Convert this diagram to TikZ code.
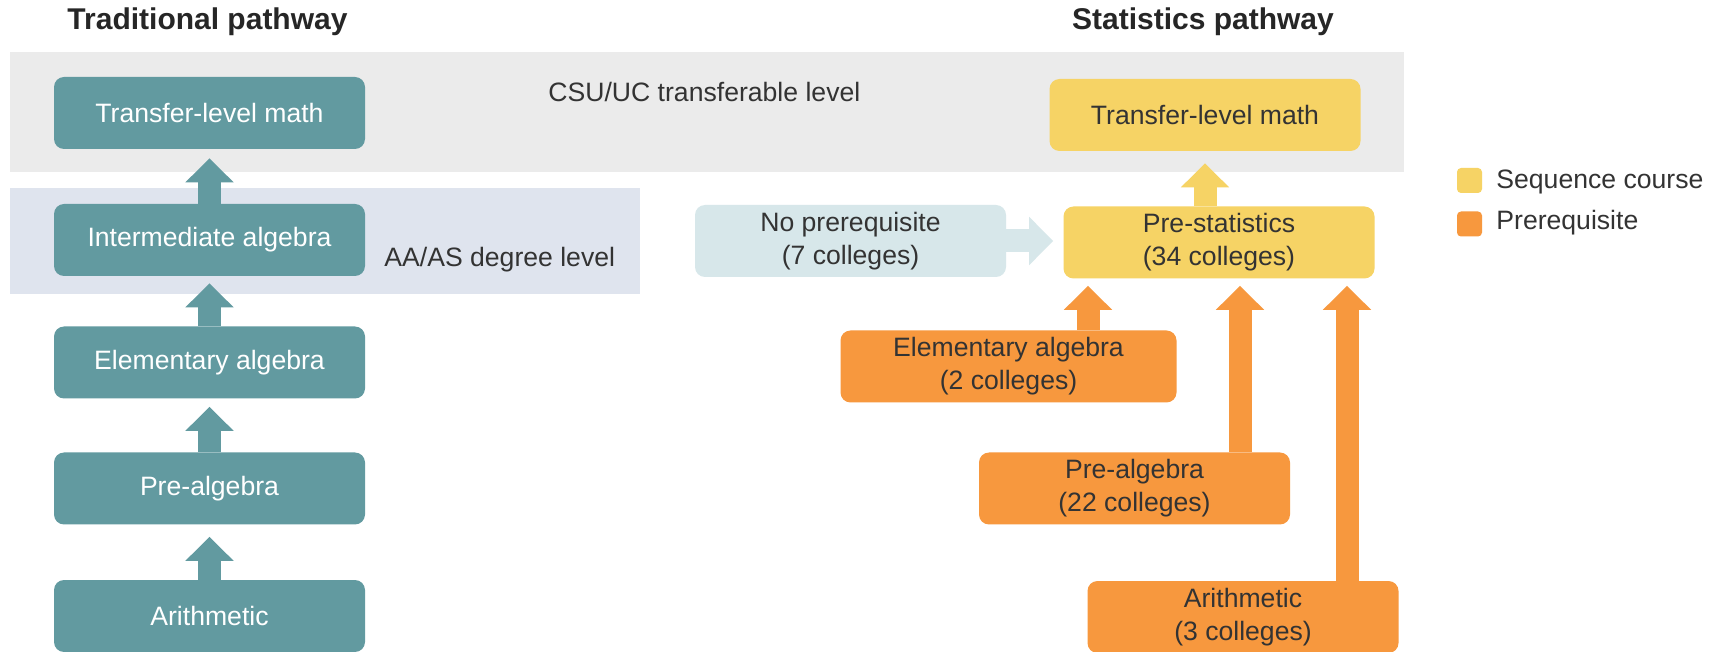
\documentclass[tikz,border=0pt]{standalone}
\usepackage{fontspec}
\setmainfont{Liberation Sans}
\usetikzlibrary{arrows.meta,calc}
\definecolor{tealc}{HTML}{629AA0}
\definecolor{yellowc}{HTML}{F6D365}
\definecolor{orangec}{HTML}{F7983E}
\definecolor{bandgray}{HTML}{EBEBEB}
\definecolor{bandblue}{HTML}{DFE4EE}
\definecolor{paleblue}{HTML}{D7E7EA}
\definecolor{darktext}{HTML}{333333}
\begin{document}
\begin{tikzpicture}[x=0.5pt,y=-0.5pt,
  box/.style={rounded corners=5pt, minimum width=155.5pt, minimum height=36pt, inner sep=0pt, align=center, font=\fontsize{13.3}{16.5}\selectfont},
  tealbox/.style={box, fill=tealc, text=white},
  ybox/.style={box, fill=yellowc, text=darktext},
  obox/.style={box, fill=orangec, text=darktext},
  nbox/.style={box, fill=paleblue, text=darktext},
  lbl/.style={inner sep=0pt, text=darktext, font=\fontsize{13.3}{16.5}\selectfont},
  ttl/.style={inner sep=0pt, text=black!85, font=\bfseries\fontsize{15}{18}\selectfont},
  legsq/.style={rounded corners=2pt, minimum width=12.5pt, minimum height=12.5pt, inner sep=0pt},
  blockarrow/.style={line width=11.5pt, -{Triangle[length=12pt,width=23.5pt]}},
  tarrow/.style={blockarrow, draw=tealc},
  yarrow/.style={blockarrow, draw=yellowc},
  oarrow/.style={blockarrow, draw=orangec},
  narrow/.style={blockarrow, draw=paleblue}]
\fill[white] (0,0) rectangle (1721,652);
\useasboundingbox (0,0) rectangle (1721,652);
% bands
\fill[bandgray] (10,52) rectangle (1404,172);
\fill[bandblue] (10,188) rectangle (640,294);
% titles
\node[ttl] (tt) at (207.5,22) {Traditional pathway};
\node[ttl] (st) at (1203,22) {Statistics pathway};
% band labels
\node[lbl, anchor=west] (csu) at (548,92) {CSU/UC transferable level};
\node[lbl, anchor=west] (aa) at (384,260) {AA/AS degree level};
% traditional pathway
\node[tealbox] (t1) at (209.5,113) {Transfer-level math};
\node[tealbox] (t2) at (209.5,240) {Intermediate algebra};
\node[tealbox] (t3) at (209.5,362.5) {Elementary algebra};
\node[tealbox] (t4) at (209.5,488.5) {Pre-algebra};
\node[tealbox] (t5) at (209.5,616) {Arithmetic};
\draw[tarrow, shorten >=4.5pt] (t2.north) -- (t1.south);
\draw[tarrow, shorten >=3.5pt] (t3.north) -- (t2.south);
\draw[tarrow, shorten >=4pt] (t4.north) -- (t3.south);
\draw[tarrow, shorten >=6pt] (t5.north) -- (t4.south);
% statistics pathway
\node[ybox] (y1) at (1205,115) {Transfer-level math};
\node[ybox] (ps) at (1219,242.5) {Pre-statistics\\(34 colleges)};
\draw[yarrow, shorten >=6pt] (y1.south |- ps.north) -- (y1.south);
\node[nbox] (np) at (850.5,241) {No prerequisite\\(7 colleges)};
\draw[narrow, shorten >=5pt] (np.east) -- (np.east -| ps.west);
\node[obox, minimum width=168pt] (o1) at (1008.5,366.5) {Elementary algebra\\(2 colleges)};
\node[obox] (o2) at (1134.5,488.5) {Pre-algebra\\(22 colleges)};
\node[obox] (o3) at (1243,617) {Arithmetic\\(3 colleges)};
\coordinate (c1) at (1088,0);
\coordinate (c2) at (1240,0);
\coordinate (c3) at (1347,0);
\draw[oarrow, shorten >=3.5pt] (c1 |- o1.north) -- (c1 |- ps.south);
\draw[oarrow, shorten >=3.5pt] (c2 |- o2.north) -- (c2 |- ps.south);
\draw[oarrow, shorten >=3.5pt] (c3 |- o3.north) -- (c3 |- ps.south);
% legend
\node[legsq, fill=yellowc] (ly) at (1469.5,180.5) {};
\node[lbl, anchor=west] (lyt) at (1496,182) {Sequence course};
\node[legsq, fill=orangec] (lo) at (1469.5,224) {};
\node[lbl, anchor=west] (lot) at (1496,223) {Prerequisite};
\end{tikzpicture}
\end{document}
